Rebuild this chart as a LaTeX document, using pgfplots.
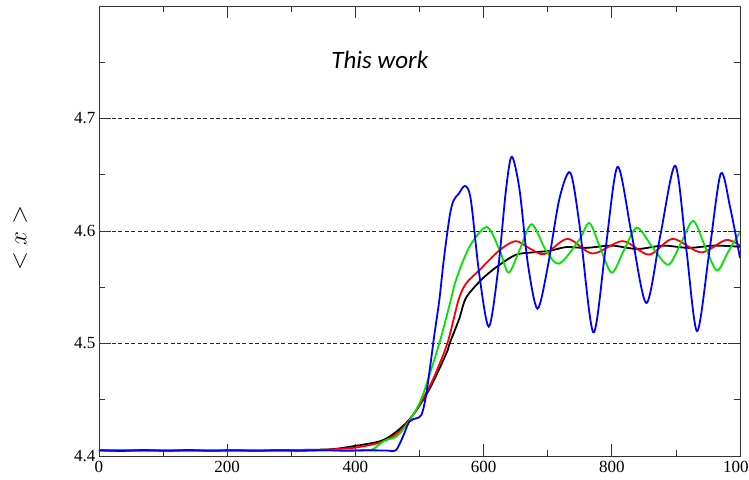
\documentclass[border=0pt]{standalone}
\usepackage{fontspec}
\setmainfont{Liberation Serif}
\newfontfamily\titlefont{Carlito}
\usepackage{pgfplots}
\pgfplotsset{compat=1.18}
\usepackage{pgfplotstable}

% <x> against time, four runs
\pgfplotstableread{
x y
0 4.4050
300 4.4050
322 4.4055
363 4.4060
400 4.4090
441 4.4136
467 4.4230
490 4.4365
516 4.4600
542 4.4914
547 4.5000
562 4.5220
573 4.5410
599 4.5580
625 4.5700
651 4.5790
677 4.5810
703 4.5824
729 4.5857
760 4.5850
800 4.5870
840 4.5840
880 4.5870
920 4.5850
960 4.5870
1000 4.5860
}\blackdata

\pgfplotstableread{
x y
0 4.4050
300 4.4050
350 4.4055
400 4.4075
441 4.4125
467 4.4210
490 4.4365
515 4.4610
530 4.4800
545 4.5030
561 4.5390
573 4.5536
594 4.5655
625 4.5830
650 4.5910
671 4.5848
695 4.5795
731 4.5930
770 4.5800
817 4.5910
858 4.5790
895 4.5930
939 4.5810
978 4.5920
1000 4.5870
}\reddata

\pgfplotstableread{
x y
0 4.4050
400 4.4050
425 4.4055
438 4.4107
447 4.4140
463 4.4170
475 4.4240
490 4.4365
505 4.4540
531 4.5003
549 4.5390
557 4.5566
578 4.5860
605 4.6035
625 4.5830
639 4.5630
656 4.5830
675 4.6060
697 4.5830
718 4.5710
749 4.5920
765 4.6070
782 4.5850
800 4.5630
819 4.5830
839 4.6030
863 4.5860
888 4.5700
908 4.5895
927 4.6090
945 4.5870
964 4.5650
982 4.5820
1000 4.5990
}\greendata

\pgfplotstableread{
x y
0 4.4052
35 4.4045
70 4.4053
105 4.4046
140 4.4053
175 4.4046
210 4.4052
245 4.4046
280 4.4052
315 4.4047
350 4.4052
385 4.4047
420 4.4051
450 4.4048
463 4.4050
474 4.4170
484 4.4305
495 4.4335
503 4.4365
510 4.4530
518 4.4854
523 4.5070
531 4.5390
538 4.5750
547 4.6130
553 4.6270
561 4.6330
571 4.6400
580 4.6280
593 4.5626
608 4.5150
622 4.5626
635 4.6370
644 4.6660
656 4.6370
669 4.5710
684 4.5310
700 4.5680
718 4.6280
735 4.6520
749 4.6080
771 4.5100
790 4.5830
809 4.6570
831 4.5970
854 4.5360
876 4.5970
899 4.6580
916 4.5850
933 4.5110
952 4.5810
970 4.6510
985 4.6200
1000 4.5760
}\bluedata

\begin{document}
\begin{tikzpicture}
\begin{axis}[
    name=ax,
    scale only axis,
    width=641pt, height=450pt,
    xmin=0, xmax=1000,
    ymin=4.4, ymax=4.8,
    xtick={0,200,...,1000},
    minor xtick={100,300,...,900},
    ytick={4.4,4.5,4.6,4.7},
    minor ytick={4.45,4.55,4.65,4.75},
    ymajorgrids,
    grid style={black!85, dash pattern=on 4pt off 2.5pt, line width=0.6pt},
    tick align=inside,
    major tick length=12pt,
    minor tick length=6pt,
    tick style={black!80, line width=0.8pt},
    axis line style={black!80, line width=0.9pt},
    ticklabel style={font=\fontsize{17}{19}\selectfont},
    /pgf/number format/assume math mode=true,
    scaled ticks=false,
    yticklabel style={/pgf/number format/.cd, fixed, fixed zerofill, precision=1},
    xticklabel style={yshift=-2pt, /pgf/number format/.cd, fixed, 1000 sep={}},
    ylabel={$<x>$},
    ylabel style={at={(axis description cs:-0.123,0.484)}, anchor=center,
                  font=\fontsize{26}{28}\selectfont},
  ]
  \addplot[black, line width=1.8pt, smooth] table {\blackdata};
  \addplot[red, line width=1.8pt, smooth] table {\reddata};
  \addplot[green!90!black, line width=1.8pt, smooth] table {\greendata};
  \addplot[blue, line width=1.8pt, smooth] table {\bluedata};

  \node[font=\titlefont\itshape\fontsize{25}{27}\selectfont] at (axis cs:438,4.752) {This work};
\end{axis}
\pgfresetboundingbox
\path[use as bounding box] ([xshift=-99pt,yshift=-23pt]ax.south west) rectangle ([xshift=9pt,yshift=6pt]ax.north east);
\end{tikzpicture}
\end{document}
